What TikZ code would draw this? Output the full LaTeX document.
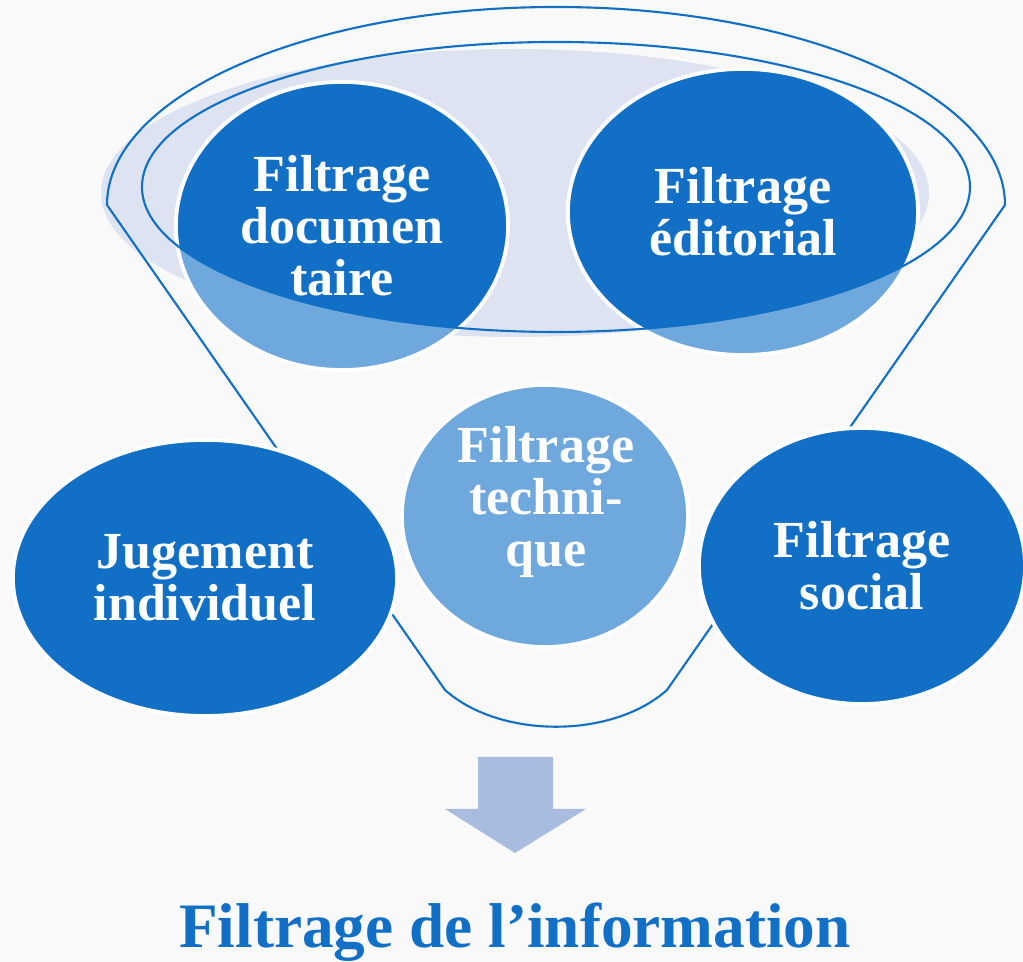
\documentclass[tikz,border=0pt]{standalone}
\usepackage{fontspec}
\setmainfont{Liberation Serif}
\usetikzlibrary{shapes.geometric, positioning}

\definecolor{darkblue}{RGB}{17,112,198}
\definecolor{lightblue}{RGB}{111,168,220}
\definecolor{rimfill}{RGB}{221,227,241}
\definecolor{arrowblue}{RGB}{169,188,224}
\definecolor{paper}{RGB}{249,249,249}

\begin{document}
\begin{tikzpicture}[x=0.01cm,y=0.01cm]
	\tikzset{every node/.style={font=\bfseries\fontsize{14.8}{14.8}\selectfont, text=white, align=center}}
	\tikzset{blob/.style={ellipse, draw=white, line width=1.1pt, inner sep=0pt, fill=darkblue}}
	\tikzset{topblob/.style={blob, fill=lightblue, path picture={\fill[darkblue] (rim) ellipse [x radius=414, y radius=145];}}}
	\tikzset{funnel/.style={darkblue, line width=0.6pt}}
	\useasboundingbox (0,0) rectangle (1023,962);
	\fill[paper] (0,0) rectangle (1023,962);
	\coordinate (rim) at (556,775);
	\fill[rimfill] (515,769) ellipse [x radius=414, y radius=144];
	% funnel
	\draw[funnel] (107,757) -- (445,272) .. controls (500,223) and (612,223) .. (667,272) -- (1005,757)
		arc [start angle=0, end angle=180, x radius=449, y radius=198] -- cycle;
	\node[topblob, minimum width=3.32cm, minimum height=2.88cm] (doc) at (342,736) {Filtrage\\documen\\taire};
	\node[topblob, minimum width=3.5cm, minimum height=2.86cm] (edit) at (743,750) {Filtrage\\éditorial};
	\draw[funnel] (rim) ellipse [x radius=414, y radius=145];
	\node[blob, fill=lightblue, minimum width=2.86cm, minimum height=2.62cm] (tech) at (545,446) {};
	\node (techtext) at (546,460) {Filtrage\\techni-\\que};
	\node[blob, minimum width=3.84cm, minimum height=2.76cm] (jug) at (205,384) {Jugement\\individuel};
	\node[blob, minimum width=3.26cm, minimum height=2.76cm] (soc) at (862,396) {Filtrage\\social};
	% arrow
	\fill[arrowblue] (478,205) -- (478,153) -- (445,153) -- (515,109) -- (586,153) -- (553,153) -- (553,205) -- cycle;
	\node[anchor=base, text=darkblue, font=\bfseries\fontsize{18}{18}\selectfont] (title) at (515,14) {Filtrage de l’information};
\end{tikzpicture}
\end{document}
